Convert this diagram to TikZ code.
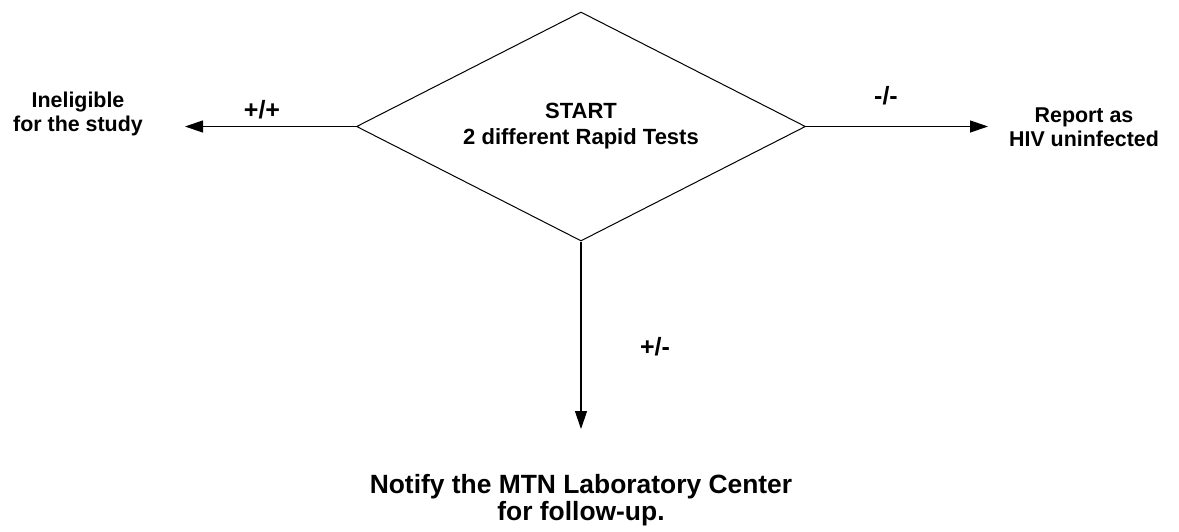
\documentclass[tikz,border=0pt]{standalone}
\usepackage{fontspec}
\setmainfont{Liberation Sans}
\usetikzlibrary{shapes.geometric, arrows.meta, positioning}

\tikzset{
	lbl/.style={font=\bfseries\fontsize{10.7}{12.2}\selectfont, align=center},
	res/.style={font=\bfseries\fontsize{12.5}{13}\selectfont},
	big/.style={font=\bfseries\fontsize{13.2}{13.5}\selectfont, align=center},
	flow/.style={line width=0.6pt, -{Triangle[length=9pt, width=6pt]}}
}

\begin{document}
\begin{tikzpicture}[x=0.5pt, y=-0.5pt]
		\useasboundingbox (0,0) rectangle (1179,531);
		% Diamond
		\node[diamond, draw, line width=0.5pt, inner sep=0pt, aspect=1.96, minimum width=224.5pt, minimum height=114.5pt, font=\bfseries\fontsize{11}{13}\selectfont, align=center] (start) at (581,126.5) {START\\2 different Rapid Tests};

		% Outcomes
		\node[lbl] (inelig) at (78,114) {Ineligible\\for the study};
		\node[lbl] (report) at (1084,127) {Report as\\HIV uninfected};
		\node[big] (notify) at (581,500) {Notify the MTN Laboratory Center\\for follow-up.};

		\coordinate (leftend) at (185,126.5);
		\coordinate (rightend) at (988,126.5);
		\coordinate (downend) at (581,429);

		\draw[flow] (start.west) -- (leftend);
		\draw[flow] (start.east) -- (rightend);
		\draw[flow] (start.south) -- (downend);

		% Results
		\node[res] (pp) at (262,110) {+/+};
		\node[res] (nn) at (886,96) {-/-};
		\node[res] (pn) at (655,347) {+/-};
	\end{tikzpicture}
\end{document}
